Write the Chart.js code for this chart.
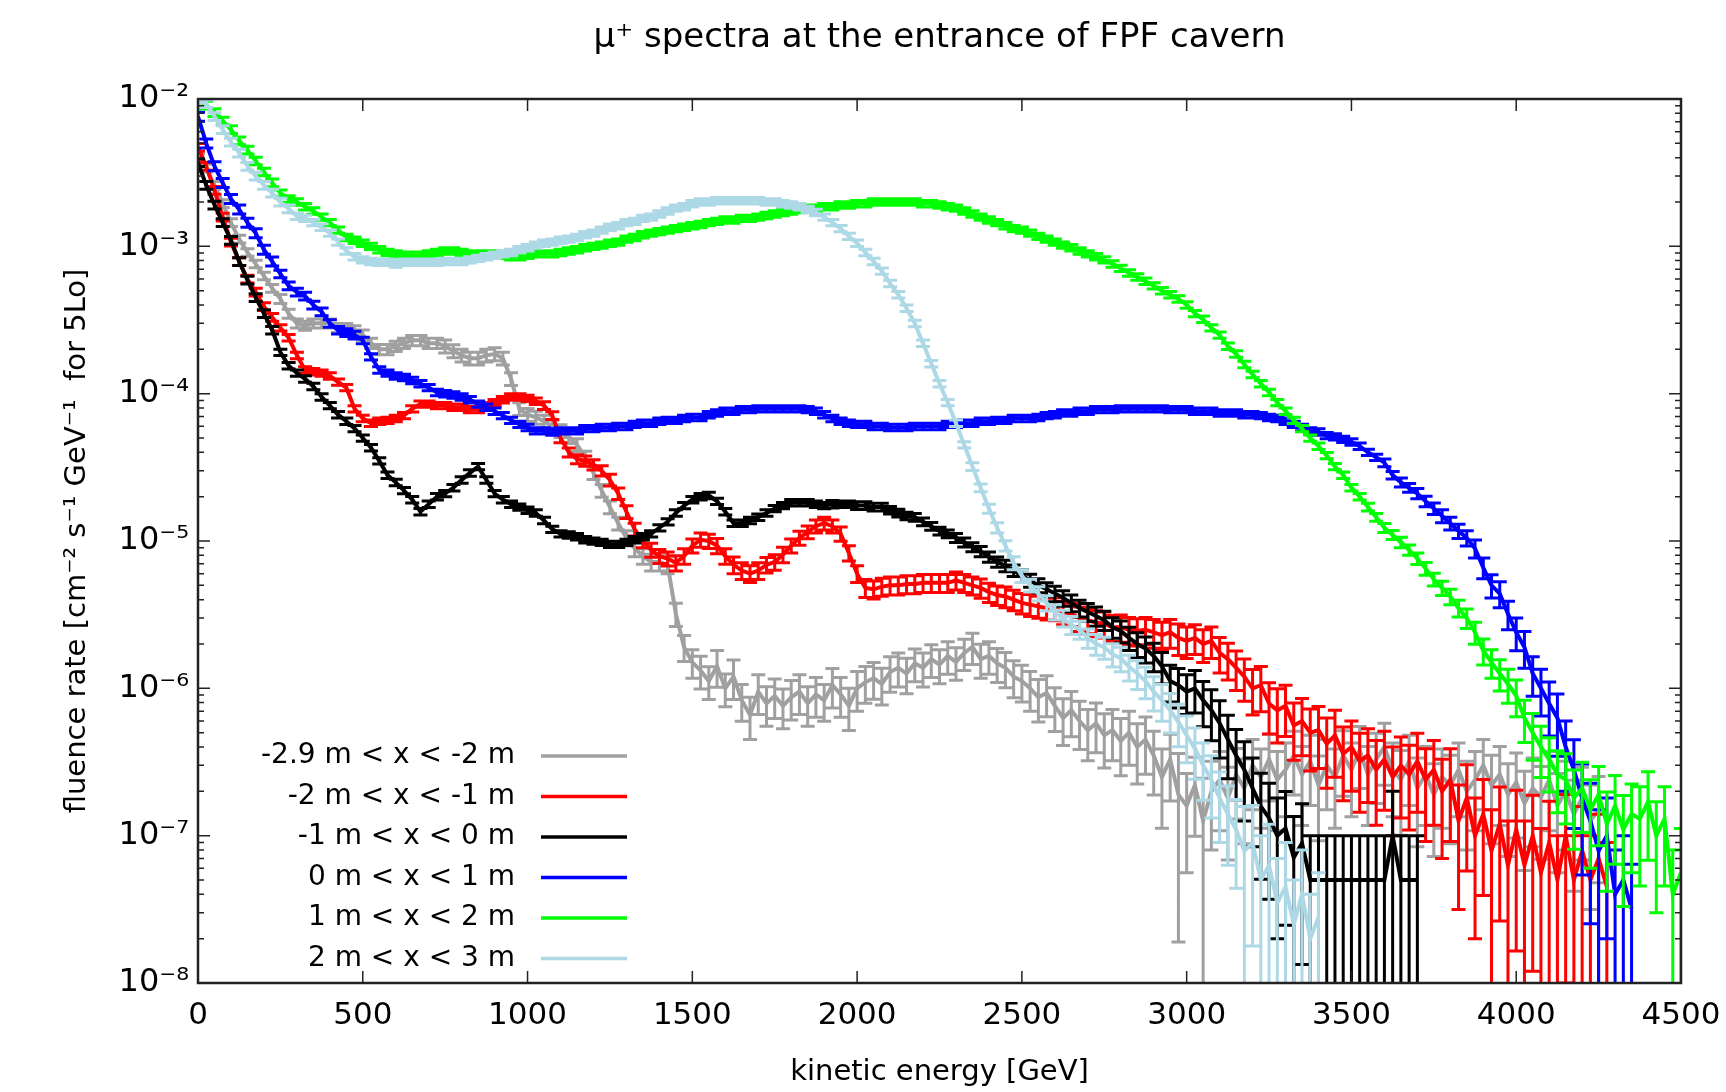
<!DOCTYPE html>
<html lang="en">
<head>
  <meta charset="UTF-8">
  <title>mu+ spectra at the entrance of FPF cavern</title>
  <script src="https://cdn.jsdelivr.net/npm/chart.js"></script>
  <style>
    html, body { margin: 0; padding: 0; background: #fff; }
    canvas { display: block; }
  </style>
</head>
<body>
  <canvas id="spectra" width="1726" height="1092"></canvas>

  <script>
    // bin centres, GeV
    const energy = [
      0, 25, 50, 75, 100, 125, 150, 175, 200, 225,
      250, 275, 300, 325, 350, 375, 400, 425, 450, 475,
      500, 525, 550, 575, 600, 625, 650, 675, 700, 725,
      750, 775, 800, 825, 850, 875, 900, 925, 950, 975,
      1000, 1025, 1050, 1075, 1100, 1125, 1150, 1175, 1200, 1225,
      1250, 1275, 1300, 1325, 1350, 1375, 1400, 1425, 1450, 1475,
      1500, 1525, 1550, 1575, 1600, 1625, 1650, 1675, 1700, 1725,
      1750, 1775, 1800, 1825, 1850, 1875, 1900, 1925, 1950, 1975,
      2000, 2025, 2050, 2075, 2100, 2125, 2150, 2175, 2200, 2225,
      2250, 2275, 2300, 2325, 2350, 2375, 2400, 2425, 2450, 2475,
      2500, 2525, 2550, 2575, 2600, 2625, 2650, 2675, 2700, 2725,
      2750, 2775, 2800, 2825, 2850, 2875, 2900, 2925, 2950, 2975,
      3000, 3025, 3050, 3075, 3100, 3125, 3150, 3175, 3200, 3225,
      3250, 3275, 3300, 3325, 3350, 3375, 3400, 3425, 3450, 3475,
      3500, 3525, 3550, 3575, 3600, 3625, 3650, 3675, 3700, 3725,
      3750, 3775, 3800, 3825, 3850, 3875, 3900, 3925, 3950, 3975,
      4000, 4025, 4050, 4075, 4100, 4125, 4150, 4175, 4200, 4225,
      4250, 4275, 4300, 4325, 4350, 4375, 4400, 4425, 4450, 4475,
      4500
    ];

    // fluence rate, cm^-2 s^-1 GeV^-1
    const rateM29M2 = [
      4.0e-3, 3.4e-3, 2.6e-3, 1.95e-3, 1.45e-3, 1.12e-3, 9.1e-4, 7.6e-4, 6.3e-4, 5.2e-4,
      4.4e-4, 3.5e-4, 3.0e-4, 2.9e-4, 3.0e-4, 3.0e-4, 3.0e-4, 2.8e-4, 2.8e-4, 2.7e-4,
      2.5e-4, 2.2e-4, 2.0e-4, 2.0e-4, 2.1e-4, 2.2e-4, 2.3e-4, 2.3e-4, 2.2e-4, 2.2e-4,
      2.1e-4, 1.95e-4, 1.82e-4, 1.74e-4, 1.74e-4, 1.82e-4, 1.86e-4, 1.74e-4, 1.26e-4, 7.9e-5,
      7.2e-5, 6.9e-5, 6.5e-5, 6.0e-5, 5.6e-5, 5.1e-5, 4.5e-5, 3.7e-5, 2.9e-5, 2.2e-5,
      1.70e-5, 1.32e-5, 1.05e-5, 8.9e-6, 7.9e-6, 7.2e-6, 7.2e-6, 6.9e-6, 3.2e-6, 1.9e-6,
      1.5e-6, 1.32e-6, 1.12e-6, 1.41e-6, 1.0e-6, 1.20e-6, 8.3e-7, 6.6e-7, 9.5e-7, 7.9e-7,
      8.9e-7, 7.6e-7, 8.7e-7, 9.5e-7, 7.9e-7, 9.1e-7, 8.3e-7, 1.05e-6, 9.1e-7, 7.6e-7,
      1.0e-6, 1.10e-6, 1.17e-6, 1.07e-6, 1.29e-6, 1.38e-6, 1.26e-6, 1.48e-6, 1.38e-6, 1.58e-6,
      1.45e-6, 1.66e-6, 1.51e-6, 1.74e-6, 1.91e-6, 1.58e-6, 1.66e-6, 1.48e-6, 1.38e-6, 1.20e-6,
      1.12e-6, 1.0e-6, 8.7e-7, 9.3e-7, 7.6e-7, 6.3e-7, 7.1e-7, 6.0e-7, 5.2e-7, 5.8e-7,
      4.8e-7, 5.2e-7, 4.4e-7, 5.0e-7, 4.0e-7, 4.5e-7, 3.5e-7, 2.5e-7, 3.3e-7, 1.9e-7,
      1.6e-7, 2.2e-7, 1.26e-7, 2.0e-7, 2.4e-7, 1.8e-7, 2.6e-7, 2.1e-7, 3.0e-7, 2.5e-7,
      3.3e-7, 2.4e-7, 2.8e-7, 3.5e-7, 2.6e-7, 3.2e-7, 2.2e-7, 3.0e-7, 2.5e-7, 3.5e-7,
      2.8e-7, 3.8e-7, 2.6e-7, 3.3e-7, 4.0e-7, 2.8e-7, 2.4e-7, 3.2e-7, 2.1e-7, 2.6e-7,
      1.9e-7, 2.5e-7, 2.2e-7, 2.8e-7, 2.0e-7, 2.4e-7, 3.0e-7, 2.2e-7, 2.6e-7, 1.9e-7,
      2.3e-7, 1.66e-7, 2.1e-7, 1.82e-7, 2.4e-7, 1.6e-7, 2.0e-7, 1.4e-7, 1.8e-7, 1.26e-7,
      1.5e-7
    ];
    const rateM2M1 = [
      4.7e-3, 3.5e-3, 2.4e-3, 1.58e-3, 1.07e-3, 7.9e-4, 6.0e-4, 4.9e-4, 3.9e-4, 3.3e-4,
      2.8e-4, 2.4e-4, 1.82e-4, 1.45e-4, 1.41e-4, 1.38e-4, 1.32e-4, 1.20e-4, 1.10e-4, 7.9e-5,
      6.8e-5, 6.3e-5, 6.5e-5, 6.6e-5, 6.8e-5, 7.1e-5, 7.9e-5, 8.5e-5, 8.5e-5, 8.3e-5,
      8.3e-5, 8.1e-5, 8.1e-5, 7.8e-5, 7.8e-5, 8.3e-5, 8.7e-5, 9.1e-5, 9.5e-5, 9.5e-5,
      9.3e-5, 8.9e-5, 8.3e-5, 7.1e-5, 5.0e-5, 4.0e-5, 3.6e-5, 3.5e-5, 3.3e-5, 3.0e-5,
      2.6e-5, 2.1e-5, 1.58e-5, 1.20e-5, 1.0e-5, 8.7e-6, 7.9e-6, 7.6e-6, 7.1e-6, 7.9e-6,
      9.3e-6, 1.02e-5, 1.0e-5, 9.3e-6, 7.9e-6, 6.9e-6, 6.3e-6, 6.0e-6, 6.3e-6, 6.9e-6,
      7.2e-6, 8.1e-6, 9.3e-6, 1.05e-5, 1.15e-5, 1.26e-5, 1.32e-5, 1.26e-5, 1.12e-5, 8.3e-6,
      6.0e-6, 4.8e-6, 4.7e-6, 4.9e-6, 5.0e-6, 5.0e-6, 5.1e-6, 5.1e-6, 5.2e-6, 5.2e-6,
      5.2e-6, 5.2e-6, 5.4e-6, 5.2e-6, 5.0e-6, 4.8e-6, 4.5e-6, 4.3e-6, 4.2e-6, 4.0e-6,
      3.8e-6, 3.7e-6, 3.6e-6, 3.5e-6, 3.5e-6, 3.3e-6, 3.2e-6, 3.0e-6, 2.9e-6, 2.8e-6,
      2.75e-6, 2.6e-6, 2.6e-6, 2.5e-6, 2.45e-6, 2.5e-6, 2.4e-6, 2.3e-6, 2.4e-6, 2.2e-6,
      2.1e-6, 2.2e-6, 2.0e-6, 2.1e-6, 1.74e-6, 1.58e-6, 1.38e-6, 1.20e-6, 1.0e-6, 1.05e-6,
      7.9e-7, 7.1e-7, 7.6e-7, 5.6e-7, 6.0e-7, 5.0e-7, 5.2e-7, 4.2e-7, 4.8e-7, 3.6e-7,
      4.0e-7, 3.2e-7, 3.5e-7, 2.8e-7, 3.3e-7, 2.5e-7, 3.0e-7, 2.6e-7, 3.2e-7, 2.4e-7,
      2.8e-7, 2.0e-7, 2.4e-7, 1.26e-7, 1.8e-7, 1.0e-7, 1.4e-7, 7.9e-8, 1.2e-7, 6.3e-8,
      1.1e-7, 6.3e-8, 1.0e-7, 5.6e-8, 9.0e-8, 5.0e-8, 1.0e-7, 5.0e-8, 7.9e-8, 5.0e-8,
      7.0e-8, 4.5e-8
    ];
    const rateM1P0 = [
      3.7e-3, 2.6e-3, 1.91e-3, 1.45e-3, 1.10e-3, 7.9e-4, 5.9e-4, 4.5e-4, 3.5e-4, 2.7e-4,
      1.91e-4, 1.55e-4, 1.38e-4, 1.26e-4, 1.12e-4, 9.5e-5, 8.3e-5, 7.2e-5, 6.5e-5, 5.8e-5,
      5.0e-5, 4.3e-5, 3.5e-5, 2.8e-5, 2.5e-5, 2.2e-5, 1.91e-5, 1.58e-5, 1.78e-5, 2.0e-5,
      2.1e-5, 2.3e-5, 2.6e-5, 2.9e-5, 3.2e-5, 2.6e-5, 2.1e-5, 1.91e-5, 1.78e-5, 1.70e-5,
      1.62e-5, 1.55e-5, 1.38e-5, 1.20e-5, 1.12e-5, 1.10e-5, 1.07e-5, 1.02e-5, 1.0e-5, 9.8e-6,
      9.5e-6, 9.5e-6, 9.8e-6, 1.02e-5, 1.07e-5, 1.12e-5, 1.23e-5, 1.35e-5, 1.55e-5, 1.74e-5,
      1.91e-5, 2.0e-5, 2.04e-5, 1.86e-5, 1.58e-5, 1.32e-5, 1.32e-5, 1.38e-5, 1.45e-5, 1.55e-5,
      1.66e-5, 1.74e-5, 1.82e-5, 1.82e-5, 1.82e-5, 1.78e-5, 1.74e-5, 1.78e-5, 1.78e-5, 1.78e-5,
      1.74e-5, 1.74e-5, 1.70e-5, 1.70e-5, 1.62e-5, 1.55e-5, 1.48e-5, 1.45e-5, 1.35e-5, 1.26e-5,
      1.17e-5, 1.12e-5, 1.05e-5, 9.8e-6, 9.1e-6, 8.5e-6, 7.8e-6, 7.2e-6, 6.8e-6, 6.3e-6,
      5.8e-6, 5.4e-6, 5.0e-6, 4.7e-6, 4.4e-6, 4.1e-6, 3.8e-6, 3.5e-6, 3.3e-6, 3.1e-6,
      2.9e-6, 2.6e-6, 2.45e-6, 2.2e-6, 2.0e-6, 1.86e-6, 1.66e-6, 1.41e-6, 1.12e-6, 1.05e-6,
      9.5e-7, 1.0e-6, 8.3e-7, 7.1e-7, 5.8e-7, 4.5e-7, 3.5e-7, 2.8e-7, 2.1e-7, 1.58e-7,
      1.32e-7, 1.0e-7, 1.12e-7, 7.1e-8, 8.9e-8, 5.0e-8, 5.0e-8, 5.0e-8, 5.0e-8, 5.0e-8,
      5.0e-8, 5.0e-8, 5.0e-8, 5.0e-8, 5.0e-8, 1.0e-7, 5.0e-8, 5.0e-8, 5.0e-8
    ];
    const rateP0P1 = [
      7.6e-3, 5.0e-3, 3.5e-3, 2.7e-3, 2.1e-3, 1.78e-3, 1.45e-3, 1.23e-3, 9.5e-4, 7.9e-4,
      6.5e-4, 5.4e-4, 4.9e-4, 4.6e-4, 4.0e-4, 3.6e-4, 3.0e-4, 2.7e-4, 2.6e-4, 2.5e-4,
      2.3e-4, 1.78e-4, 1.45e-4, 1.38e-4, 1.32e-4, 1.29e-4, 1.23e-4, 1.17e-4, 1.10e-4, 1.02e-4,
      1.0e-4, 9.8e-5, 9.5e-5, 9.1e-5, 8.5e-5, 8.1e-5, 7.6e-5, 7.1e-5, 6.6e-5, 6.2e-5,
      5.9e-5, 5.6e-5, 5.6e-5, 5.5e-5, 5.6e-5, 5.6e-5, 5.6e-5, 5.8e-5, 5.8e-5, 5.9e-5,
      5.9e-5, 6.0e-5, 6.0e-5, 6.2e-5, 6.3e-5, 6.3e-5, 6.5e-5, 6.6e-5, 6.6e-5, 6.8e-5,
      6.9e-5, 6.9e-5, 7.2e-5, 7.4e-5, 7.6e-5, 7.6e-5, 7.8e-5, 7.8e-5, 7.9e-5, 7.9e-5,
      7.9e-5, 7.9e-5, 7.9e-5, 7.9e-5, 7.8e-5, 7.6e-5, 7.2e-5, 6.8e-5, 6.5e-5, 6.3e-5,
      6.2e-5, 6.2e-5, 6.0e-5, 6.0e-5, 5.9e-5, 5.9e-5, 5.9e-5, 6.0e-5, 6.0e-5, 6.0e-5,
      6.0e-5, 6.2e-5, 6.2e-5, 6.3e-5, 6.3e-5, 6.5e-5, 6.5e-5, 6.6e-5, 6.6e-5, 6.8e-5,
      6.8e-5, 6.8e-5, 6.9e-5, 7.1e-5, 7.2e-5, 7.4e-5, 7.4e-5, 7.6e-5, 7.6e-5, 7.8e-5,
      7.8e-5, 7.8e-5, 7.9e-5, 7.9e-5, 7.9e-5, 7.9e-5, 7.9e-5, 7.9e-5, 7.8e-5, 7.8e-5,
      7.8e-5, 7.6e-5, 7.6e-5, 7.6e-5, 7.4e-5, 7.4e-5, 7.4e-5, 7.2e-5, 7.2e-5, 7.1e-5,
      6.9e-5, 6.8e-5, 6.5e-5, 6.2e-5, 5.9e-5, 5.6e-5, 5.5e-5, 5.2e-5, 5.1e-5, 4.9e-5,
      4.7e-5, 4.4e-5, 4.0e-5, 3.7e-5, 3.4e-5, 2.8e-5, 2.5e-5, 2.3e-5, 2.1e-5, 1.86e-5,
      1.66e-5, 1.48e-5, 1.32e-5, 1.17e-5, 1.05e-5, 8.9e-6, 6.6e-6, 5.0e-6, 4.4e-6, 3.2e-6,
      2.4e-6, 1.9e-6, 1.26e-6, 1.0e-6, 7.9e-7, 6.3e-7, 4.0e-7, 2.8e-7, 1.8e-7, 1.26e-7,
      7.9e-8, 1.0e-7, 4.0e-8, 5.0e-8, 3.2e-8
    ];
    const rateP1P2 = [
      1.0e-2, 9.1e-3, 8.1e-3, 7.1e-3, 6.2e-3, 5.2e-3, 4.5e-3, 3.8e-3, 3.2e-3, 2.7e-3,
      2.3e-3, 2.1e-3, 2.0e-3, 1.86e-3, 1.74e-3, 1.58e-3, 1.45e-3, 1.29e-3, 1.15e-3, 1.10e-3,
      1.05e-3, 1.0e-3, 9.5e-4, 9.1e-4, 8.9e-4, 8.7e-4, 8.7e-4, 8.7e-4, 8.9e-4, 9.1e-4,
      9.3e-4, 9.3e-4, 9.1e-4, 8.9e-4, 8.9e-4, 8.9e-4, 8.9e-4, 8.7e-4, 8.5e-4, 8.5e-4,
      8.7e-4, 8.9e-4, 8.9e-4, 8.9e-4, 9.1e-4, 9.3e-4, 9.5e-4, 9.8e-4, 1.0e-3, 1.02e-3,
      1.05e-3, 1.07e-3, 1.12e-3, 1.15e-3, 1.20e-3, 1.23e-3, 1.26e-3, 1.29e-3, 1.32e-3, 1.35e-3,
      1.38e-3, 1.41e-3, 1.45e-3, 1.48e-3, 1.51e-3, 1.51e-3, 1.55e-3, 1.55e-3, 1.58e-3, 1.62e-3,
      1.66e-3, 1.70e-3, 1.74e-3, 1.78e-3, 1.82e-3, 1.82e-3, 1.86e-3, 1.86e-3, 1.91e-3, 1.91e-3,
      1.95e-3, 1.95e-3, 2.0e-3, 2.0e-3, 2.0e-3, 2.0e-3, 2.0e-3, 2.0e-3, 1.95e-3, 1.95e-3,
      1.91e-3, 1.86e-3, 1.82e-3, 1.74e-3, 1.66e-3, 1.58e-3, 1.51e-3, 1.45e-3, 1.38e-3, 1.32e-3,
      1.29e-3, 1.23e-3, 1.17e-3, 1.12e-3, 1.07e-3, 1.02e-3, 9.8e-4, 9.3e-4, 8.9e-4, 8.5e-4,
      8.1e-4, 7.6e-4, 7.1e-4, 6.6e-4, 6.2e-4, 5.8e-4, 5.4e-4, 5.0e-4, 4.7e-4, 4.4e-4,
      4.0e-4, 3.5e-4, 3.2e-4, 2.8e-4, 2.5e-4, 2.1e-4, 1.86e-4, 1.58e-4, 1.35e-4, 1.17e-4,
      1.02e-4, 8.7e-5, 7.6e-5, 6.6e-5, 5.8e-5, 5.0e-5, 4.4e-5, 3.8e-5, 3.2e-5, 2.8e-5,
      2.3e-5, 2.0e-5, 1.70e-5, 1.45e-5, 1.23e-5, 1.10e-5, 9.8e-6, 8.7e-6, 7.6e-6, 6.5e-6,
      5.5e-6, 4.8e-6, 4.2e-6, 3.5e-6, 3.0e-6, 2.4e-6, 1.8e-6, 1.5e-6, 1.26e-6, 1.07e-6,
      8.9e-7, 6.3e-7, 5.0e-7, 4.0e-7, 3.3e-7, 2.6e-7, 2.4e-7, 1.8e-7, 2.1e-7, 1.5e-7,
      1.9e-7, 1.2e-7, 1.6e-7, 1.1e-7, 1.4e-7, 1.3e-7, 1.7e-7, 1.0e-7, 1.3e-7, 4.0e-8,
      5.6e-8
    ];
    const rateP2P3 = [
      1.0e-2, 9.3e-3, 7.6e-3, 6.2e-3, 5.1e-3, 4.3e-3, 3.5e-3, 3.0e-3, 2.6e-3, 2.3e-3,
      2.0e-3, 1.8e-3, 1.6e-3, 1.55e-3, 1.45e-3, 1.35e-3, 1.23e-3, 1.07e-3, 9.3e-4, 8.5e-4,
      8.1e-4, 7.9e-4, 7.8e-4, 7.8e-4, 7.6e-4, 7.8e-4, 7.8e-4, 7.8e-4, 7.8e-4, 7.8e-4,
      7.9e-4, 7.9e-4, 7.9e-4, 8.1e-4, 8.3e-4, 8.5e-4, 8.7e-4, 8.9e-4, 9.1e-4, 9.5e-4,
      9.8e-4, 1.02e-3, 1.05e-3, 1.07e-3, 1.10e-3, 1.12e-3, 1.15e-3, 1.20e-3, 1.23e-3, 1.29e-3,
      1.35e-3, 1.38e-3, 1.45e-3, 1.48e-3, 1.55e-3, 1.58e-3, 1.66e-3, 1.74e-3, 1.82e-3, 1.86e-3,
      1.95e-3, 2.0e-3, 2.0e-3, 2.04e-3, 2.04e-3, 2.04e-3, 2.04e-3, 2.04e-3, 2.04e-3, 2.0e-3,
      2.0e-3, 1.95e-3, 1.91e-3, 1.86e-3, 1.78e-3, 1.70e-3, 1.58e-3, 1.45e-3, 1.32e-3, 1.17e-3,
      1.05e-3, 9.1e-4, 7.9e-4, 6.8e-4, 5.6e-4, 4.7e-4, 3.8e-4, 3.0e-4, 2.2e-4, 1.6e-4,
      1.17e-4, 8.7e-5, 6.3e-5, 4.5e-5, 3.2e-5, 2.3e-5, 1.66e-5, 1.23e-5, 9.3e-6, 7.1e-6,
      5.8e-6, 5.0e-6, 4.4e-6, 3.8e-6, 3.3e-6, 3.0e-6, 2.7e-6, 2.5e-6, 2.2e-6, 2.0e-6,
      1.9e-6, 1.7e-6, 1.6e-6, 1.4e-6, 1.26e-6, 1.12e-6, 9.5e-7, 8.3e-7, 7.1e-7, 5.9e-7,
      4.8e-7, 3.9e-7, 3.0e-7, 2.4e-7, 1.8e-7, 1.4e-7, 1.1e-7, 7.9e-8, 8.9e-8, 5.0e-8,
      6.3e-8, 3.5e-8, 4.5e-8, 2.5e-8, 4.0e-8, 2.0e-8, 2.8e-8
    ];

    // relative statistical errors
    const errM29M2 = [
      .06, .06, .06, .06, .06, .06, .06, .06, .06, .06,
      .07, .07, .07, .07, .07, .07, .07, .07, .07, .07,
      .08, .08, .08, .08, .08, .08, .08, .08, .08, .08,
      .1, .1, .1, .1, .1, .1, .1, .1, .1, .1,
      .1, .1, .1, .1, .1, .1, .1, .1, .1, .1,
      .1, .1, .12, .12, .12, .13, .13, .13, .18, .2,
      .22, .25, .25, .28, .25, .3, .28, .32, .3, .3,
      .3, .3, .3, .3, .3, .3, .28, .3, .3, .32,
      .3, .28, .28, .28, .27, .26, .27, .25, .26, .25,
      .26, .25, .25, .24, .24, .26, .25, .26, .27, .28,
      .28, .3, .32, .31, .33, .35, .34, .36, .38, .37,
      .4, .38, .42, .4, .44, .42, .46, .55, .48, .9,
      .65, .55, .95, .6, .55, .62, .5, .58, .5, .55,
      .48, .55, .52, .46, .55, .5, .58, .5, .55, .47,
      .52, .45, .55, .5, .45, .52, .58, .5, .6, .55,
      .62, .55, .6, .52, .6, .55, .5, .6, .55, .62,
      .58, .65, .6, .62, .55, .65, .6, .7, .62, .75,
      .68
    ];
    const errM2M1 = [
      .06, .06, .06, .06, .06, .06, .06, .06, .06, .06,
      .05, .05, .05, .05, .05, .05, .05, .05, .05, .05,
      .05, .05, .05, .05, .05, .05, .05, .05, .05, .05,
      .05, .05, .05, .05, .05, .05, .05, .05, .05, .05,
      .05, .05, .06, .06, .07, .07, .07, .08, .08, .08,
      .09, .09, .1, .1, .1, .11, .11, .11, .12, .12,
      .11, .11, .11, .12, .12, .13, .13, .13, .13, .12,
      .12, .12, .11, .11, .1, .1, .1, .1, .11, .12,
      .13, .14, .14, .14, .14, .14, .14, .14, .14, .14,
      .14, .14, .14, .14, .14, .15, .15, .15, .16, .16,
      .16, .17, .17, .17, .18, .18, .18, .19, .19, .2,
      .2, .2, .21, .21, .21, .21, .22, .22, .22, .24,
      .24, .23, .25, .24, .27, .28, .3, .32, .34, .34,
      .38, .4, .38, .42, .42, .45, .45, .5, .48, .52,
      .5, .55, .52, .58, .55, .6, .56, .58, .55, .62,
      .58, .65, .62, .75, .68, .8, .72, .9, .78, 1,
      .85, 1, .88, 1, .9, 1, .9, 1, 1, 1,
      1, 1
    ];
    const errM1P0 = [
      .06, .06, .06, .06, .06, .06, .06, .06, .06, .06,
      .05, .05, .05, .05, .05, .05, .05, .05, .05, .05,
      .05, .05, .05, .05, .05, .05, .05, .05, .05, .05,
      .05, .05, .05, .05, .05, .05, .05, .05, .05, .05,
      .05, .05, .05, .05, .05, .05, .05, .05, .05, .05,
      .05, .05, .05, .05, .05, .05, .05, .05, .05, .05,
      .05, .05, .05, .05, .05, .05, .05, .05, .05, .05,
      .05, .05, .05, .05, .05, .05, .05, .06, .05, .05,
      .06, .06, .06, .06, .06, .06, .06, .06, .06, .06,
      .06, .06, .07, .07, .07, .08, .08, .08, .09, .09,
      .1, .1, .11, .11, .12, .12, .13, .13, .14, .15,
      .15, .16, .17, .18, .19, .2, .22, .24, .28, .3,
      .3, .32, .34, .38, .42, .46, .5, .55, .6, .68,
      .72, .8, .78, .9, .85, 1, 1, 1, 1, 1,
      1, 1, 1, 1, 1, 1, 1, 1, 1
    ];
    const errP0P1 = [
      .07, .07, .07, .07, .07, .07, .07, .07, .07, .07,
      .06, .06, .06, .06, .06, .06, .06, .06, .06, .06,
      .05, .05, .05, .05, .05, .05, .05, .05, .05, .05,
      .05, .05, .05, .05, .05, .05, .05, .05, .05, .05,
      .05, .05, .05, .05, .05, .05, .05, .05, .05, .05,
      .05, .05, .05, .05, .05, .05, .05, .05, .05, .05,
      .05, .05, .05, .05, .05, .05, .05, .05, .05, .05,
      .05, .05, .05, .05, .05, .05, .05, .05, .05, .05,
      .05, .05, .05, .05, .05, .05, .05, .05, .05, .05,
      .05, .05, .05, .05, .05, .05, .05, .05, .05, .05,
      .05, .05, .05, .05, .05, .05, .05, .05, .05, .05,
      .05, .05, .05, .05, .05, .05, .05, .05, .05, .05,
      .05, .05, .05, .05, .05, .05, .05, .05, .05, .05,
      .05, .05, .05, .05, .05, .05, .05, .05, .05, .05,
      .05, .05, .05, .05, .06, .06, .07, .07, .08, .08,
      .09, .1, .1, .11, .12, .14, .16, .18, .2, .22,
      .25, .28, .3, .35, .4, .45, .5, .6, .7, .8,
      .9, .8, 1, 1, 1
    ];
    const errP1P2 = [
      .06, .06, .06, .06, .06, .06, .06, .06, .06, .06,
      .05, .05, .05, .05, .05, .05, .05, .05, .05, .05,
      .05, .05, .05, .05, .05, .05, .05, .05, .05, .05,
      .05, .05, .05, .05, .05, .05, .05, .05, .05, .05,
      .05, .05, .05, .05, .05, .05, .05, .05, .05, .05,
      .05, .05, .05, .05, .05, .05, .05, .05, .05, .05,
      .05, .05, .05, .05, .05, .05, .05, .05, .05, .05,
      .05, .05, .05, .05, .05, .05, .05, .05, .05, .05,
      .05, .05, .05, .05, .05, .05, .05, .05, .05, .05,
      .05, .05, .05, .05, .05, .05, .05, .05, .05, .05,
      .05, .05, .05, .05, .05, .05, .05, .05, .05, .05,
      .05, .05, .05, .05, .05, .05, .05, .05, .05, .05,
      .05, .05, .05, .05, .05, .05, .05, .05, .05, .05,
      .05, .05, .05, .05, .05, .05, .05, .05, .05, .05,
      .05, .05, .06, .06, .07, .07, .08, .08, .09, .1,
      .1, .11, .12, .13, .15, .17, .2, .22, .24, .26,
      .28, .32, .35, .38, .4, .45, .5, .55, .5, .6,
      .55, .65, .6, .7, .6, .65, .6, .7, .65, 1,
      1
    ];
    const errP2P3 = [
      .06, .06, .06, .06, .06, .06, .06, .06, .06, .06,
      .06, .06, .05, .05, .05, .05, .05, .05, .05, .05,
      .05, .05, .05, .05, .05, .05, .05, .05, .05, .05,
      .05, .05, .05, .05, .05, .05, .05, .05, .05, .05,
      .05, .05, .05, .05, .05, .05, .05, .05, .05, .05,
      .05, .05, .05, .05, .05, .05, .05, .05, .05, .05,
      .05, .05, .05, .05, .05, .05, .05, .05, .05, .05,
      .05, .05, .05, .05, .05, .05, .05, .05, .05, .05,
      .05, .05, .05, .05, .05, .05, .05, .05, .05, .05,
      .05, .05, .05, .05, .06, .06, .07, .08, .08, .1,
      .1, .1, .11, .12, .12, .13, .14, .14, .15, .16,
      .17, .18, .19, .2, .22, .24, .26, .28, .3, .32,
      .35, .38, .42, .45, .5, .55, .6, 1, .8, 1,
      .9, 1, 1, 1, 1, 1, 1
    ];

    const seriesLabels = [
      '-2.9 m < x < -2 m',
      '-2 m < x < -1 m',
      '-1 m < x < 0 m',
      '0 m < x < 1 m',
      '1 m < x < 2 m',
      '2 m < x < 3 m'
    ];
    const seriesColors = ['#a0a0a0', '#ff0000', '#000000', '#0000ff', '#00ff00', '#add8e6'];
    const seriesRates = [rateM29M2, rateM2M1, rateM1P0, rateP0P1, rateP1P2, rateP2P3];
    const seriesErrors = [errM29M2, errM2M1, errM1P0, errP0P1, errP1P2, errP2P3];

    const xTicks = [0, 500, 1000, 1500, 2000, 2500, 3000, 3500, 4000, 4500];
    const yTicks = [1e-8, 1e-7, 1e-6, 1e-5, 1e-4, 1e-3, 1e-2];
    const yTickLabels = ['10⁻⁸', '10⁻⁷', '10⁻⁶', '10⁻⁵', '10⁻⁴', '10⁻³', '10⁻²'];

    const titleText = 'μ⁺ spectra at the entrance of FPF cavern';
    const FONT = '"DejaVu Sans", sans-serif';

    // vertical error bars with caps, drawn right after each curve
    const errorBars = {
      id: 'errorBars',
      afterDatasetDraw(chart, args) {
        const ds = chart.data.datasets[args.index];
        const errs = ds.relErr || [];
        const xs = chart.scales.x, ys = chart.scales.y;
        const a = chart.chartArea;
        const c = chart.ctx;
        const cap = 7;
        c.save();
        c.beginPath();
        c.rect(a.left, a.top, a.right - a.left, a.bottom - a.top);
        c.clip();
        c.strokeStyle = ds.borderColor;
        c.lineWidth = 3;
        c.beginPath();
        ds.data.forEach((p, i) => {
          const e = errs[i] || 0;
          const px = xs.getPixelForValue(p.x);
          const top = ys.getPixelForValue(p.y * (1 + e));
          const lo = p.y * (1 - e);
          const bot = lo > 0 ? ys.getPixelForValue(lo) : a.bottom + 4;
          c.moveTo(px, top); c.lineTo(px, bot);
          c.moveTo(px - cap, top); c.lineTo(px + cap, top);
          if (lo > 0) { c.moveTo(px - cap, bot); c.lineTo(px + cap, bot); }
        });
        c.stroke();
        c.restore();
      }
    };

    // gnuplot-like frame with inward ticks, key and title
    const frameAndKey = {
      id: 'frameAndKey',
      afterDraw(chart) {
        const c = chart.ctx, a = chart.chartArea;
        const xs = chart.scales.x, ys = chart.scales.y;
        c.save();
        c.strokeStyle = '#222';
        c.lineWidth = 1.5;
        c.beginPath();
        xTicks.forEach(v => {
          const px = xs.getPixelForValue(v);
          c.moveTo(px, a.bottom); c.lineTo(px, a.bottom - 12);
          c.moveTo(px, a.top); c.lineTo(px, a.top + 12);
        });
        yTicks.forEach((d, k) => {
          for (let m = 1; m <= 9; m++) {
            if (k === yTicks.length - 1 && m > 1) break;
            const py = ys.getPixelForValue(m * d);
            const len = m === 1 ? 12 : 6;
            c.moveTo(a.left, py); c.lineTo(a.left + len, py);
            c.moveTo(a.right, py); c.lineTo(a.right - len, py);
          }
        });
        c.stroke();
        c.lineWidth = 2.5;
        c.strokeRect(a.left, a.top, a.right - a.left, a.bottom - a.top);

        c.fillStyle = '#000';
        c.textBaseline = 'middle';
        c.textAlign = 'center';
        c.font = '34px ' + FONT;
        c.fillText(titleText, (a.left + a.right) / 2, 38);

        c.font = '28px ' + FONT;
        c.textAlign = 'right';
        chart.data.datasets.forEach((ds, i) => {
          const yy = a.top + 657 + i * 40.5;
          c.fillText(ds.label, a.left + 317, yy);
          c.strokeStyle = ds.borderColor;
          c.lineWidth = 3.5;
          c.beginPath();
          c.moveTo(a.left + 343, yy);
          c.lineTo(a.left + 429, yy);
          c.stroke();
        });
        c.restore();
      }
    };

    const datasets = seriesRates.map((vals, k) => ({
      label: seriesLabels[k],
      data: vals.map((v, i) => ({ x: energy[i], y: v })),
      relErr: seriesErrors[k],
      borderColor: seriesColors[k],
      backgroundColor: seriesColors[k],
      borderWidth: 4,
      pointRadius: 0,
      tension: 0,
      clip: 0,
      order: seriesRates.length - k
    }));

    new Chart(document.getElementById('spectra').getContext('2d'), {
      type: 'line',
      data: { datasets },
      options: {
        responsive: false,
        animation: false,
        devicePixelRatio: 1,
        layout: { padding: { top: 99, right: 45, bottom: 0, left: 0 } },
        plugins: {
          legend: { display: false },
          tooltip: { enabled: false }
        },
        scales: {
          x: {
            type: 'linear',
            min: 0,
            max: 4500,
            afterFit: s => { s.height = 109; s.paddingLeft = 0; s.paddingRight = 0; },
            afterBuildTicks: s => { s.ticks = xTicks.map(v => ({ value: v })); },
            grid: { display: false, drawTicks: false },
            border: { display: false },
            ticks: {
              autoSkip: false,
              maxRotation: 0,
              padding: 14,
              color: '#000',
              font: { family: FONT, size: 31 },
              callback: v => String(v)
            },
            title: {
              display: true,
              text: 'kinetic energy [GeV]',
              color: '#000',
              font: { family: FONT, size: 29 },
              padding: { top: 0, bottom: 2 }
            }
          },
          y: {
            type: 'logarithmic',
            min: 1e-8,
            max: 1e-2,
            afterFit: s => { s.width = 198; s.paddingTop = 0; s.paddingBottom = 0; },
            afterBuildTicks: s => { s.ticks = yTicks.map(v => ({ value: v })); },
            grid: { display: false, drawTicks: false },
            border: { display: false },
            ticks: {
              autoSkip: false,
              padding: 9,
              color: '#000',
              font: { family: FONT, size: 32 },
              callback: (v, i) => yTickLabels[i]
            },
            title: {
              display: true,
              text: 'fluence rate [cm⁻² s⁻¹ GeV⁻¹  for 5Lo]',
              color: '#000',
              font: { family: FONT, size: 29 },
              padding: { top: 60, bottom: 0 }
            }
          }
        }
      },
      plugins: [errorBars, frameAndKey]
    });
  </script>
</body>
</html>
